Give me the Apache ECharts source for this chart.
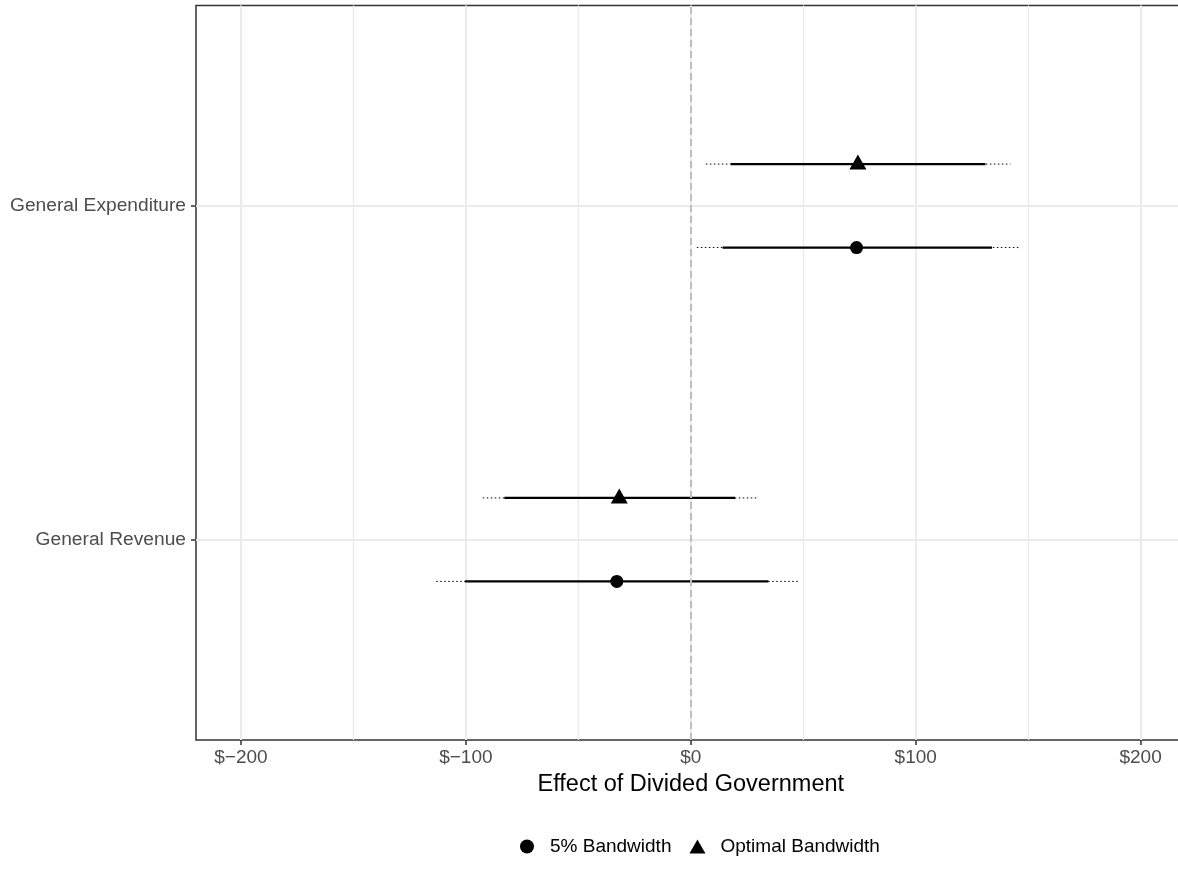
<!DOCTYPE html>
<html>
<head>
<meta charset="utf-8">
<script src="https://cdn.jsdelivr.net/npm/echarts@6/dist/echarts.min.js"></script>
<style>
  html, body { margin: 0; padding: 0; background: #fff; }
  #chart { width: 1178px; height: 886px; }
</style>
</head>
<body>
<div id="chart"></div>
<script>
const categories = ['General Revenue', 'General Expenditure'];
const seriesNames = ['5% Bandwidth', 'Optimal Bandwidth'];
// point estimates
const bw5Est = [-32.9, 73.7];
const optEst = [-31.8, 74.3];
// inner interval (solid)
const bw5Lo = [-100.4, 14.1];
const bw5Hi = [34.5, 133.9];
const optLo = [-82.9, 17.8];
const optHi = [19.7, 131.0];
// outer interval (dotted)
const bw5LoOuter = [-113.2, 2.7];
const bw5HiOuter = [47.8, 145.7];
const optLoOuter = [-92.5, 6.7];
const optHiOuter = [29.6, 142.1];
const xTicks = [-200, -100, 0, 100, 200];
const xMinorTicks = [-150, -50, 50, 150];

const FONT = '"Liberation Sans", Arial, Helvetica, sans-serif';
const dodge = 0.125;

// rows: [est, y, lo, hi, loOuter, hiOuter]
function rows(est, lo, hi, loO, hiO, off) {
  return categories.map((c, i) => [est[i], i + 1 + off, lo[i], hi[i], loO[i], hiO[i]]);
}
const bw5Rows = rows(bw5Est, bw5Lo, bw5Hi, bw5LoOuter, bw5HiOuter, -dodge);
const optRows = rows(optEst, optLo, optHi, optLoOuter, optHiOuter, dodge);

function renderBars(params, api) {
  const y = api.value(1);
  const a = api.coord([api.value(4), y]);
  const b = api.coord([api.value(5), y]);
  const c = api.coord([api.value(2), y]);
  const d = api.coord([api.value(3), y]);
  return {
    type: 'group',
    children: [
      { type: 'line', shape: { x1: a[0], y1: a[1], x2: b[0], y2: b[1] },
        style: { stroke: '#000', lineWidth: 1, lineDash: [1.5, 2.5] } },
      { type: 'line', shape: { x1: c[0], y1: c[1], x2: d[0], y2: d[1] },
        style: { stroke: '#000', lineWidth: 2.2 } }
    ]
  };
}

const fmtDollar = v => (v < 0 ? '$\u2212' + (-v) : '$' + v);

const chart = echarts.init(document.getElementById('chart'));
chart.setOption({
  animation: false,
  color: ['#000000'],
  textStyle: { fontFamily: FONT },
  grid: {
    left: 196, top: 5.5, right: -7.6, bottom: 146,
    show: true, borderColor: '#333333', borderWidth: 1.5,
    outerBoundsMode: 'none'
  },
  legend: {
    left: 515, top: 832,
    itemWidth: 16, itemHeight: 14, itemGap: 18,
    textStyle: { fontSize: 19, color: '#000', fontFamily: FONT, padding: [0, 0, 0, 10] },
    data: [
      { name: seriesNames[0], icon: 'circle', itemStyle: { color: '#000' } },
      { name: seriesNames[1], icon: 'triangle', itemStyle: { color: '#000' } }
    ]
  },
  xAxis: [
    {
      type: 'value', min: -220, max: 220,
      name: 'Effect of Divided Government',
      nameLocation: 'middle', nameGap: 33,
      nameTextStyle: { fontSize: 23.5, color: '#000', fontFamily: FONT },
      axisLine: { show: false, onZero: false },
      axisTick: { show: true, customValues: xTicks, length: 5, lineStyle: { color: '#333', width: 1.5 } },
      axisLabel: { customValues: xTicks, formatter: fmtDollar, margin: 8,
        fontSize: 19, color: '#4D4D4D', fontFamily: FONT },
      splitLine: { show: true, lineStyle: { color: '#EBEBEB', width: 2 } }
    },
    {
      type: 'value', min: -220, max: 220, position: 'top',
      axisLine: { show: false, onZero: false },
      axisTick: { show: false, customValues: xMinorTicks },
      axisLabel: { show: false, customValues: xMinorTicks },
      splitLine: { show: true, lineStyle: { color: '#EBEBEB', width: 1.3 } }
    }
  ],
  yAxis: {
    type: 'value', min: 0.4, max: 2.6,
    axisLine: { show: false, onZero: false },
    axisTick: { show: true, customValues: [1, 2], length: 5, lineStyle: { color: '#333', width: 1.5 } },
    axisLabel: { customValues: [1, 2], formatter: v => categories[Math.round(v) - 1], margin: 10,
      fontSize: 19.2, color: '#4D4D4D', fontFamily: FONT },
    splitLine: { show: true, lineStyle: { color: '#EBEBEB', width: 2 } }
  },
  series: [
    {
      type: 'line', data: [], silent: true, z: 1,
      markLine: {
        silent: true, symbol: 'none', label: { show: false },
        lineStyle: { color: '#BEBEBE', type: [7, 4], width: 2 },
        data: [{ xAxis: 0 }]
      }
    },
    { type: 'custom', name: seriesNames[0], renderItem: renderBars, data: bw5Rows,
      encode: { x: 0, y: 1 }, z: 3, silent: true },
    { type: 'custom', name: seriesNames[1], renderItem: renderBars, data: optRows,
      encode: { x: 0, y: 1 }, z: 3, silent: true },
    { type: 'scatter', name: seriesNames[0], data: bw5Rows.map(r => [r[0], r[1]]),
      symbol: 'circle', symbolSize: 13, itemStyle: { color: '#000', opacity: 1 }, z: 4 },
    { type: 'scatter', name: seriesNames[1], data: optRows.map(r => [r[0], r[1]]),
      symbol: 'triangle', symbolSize: [17, 15], symbolOffset: [0, -2],
      itemStyle: { color: '#000', opacity: 1 }, z: 4 }
  ]
});
</script>
</body>
</html>
